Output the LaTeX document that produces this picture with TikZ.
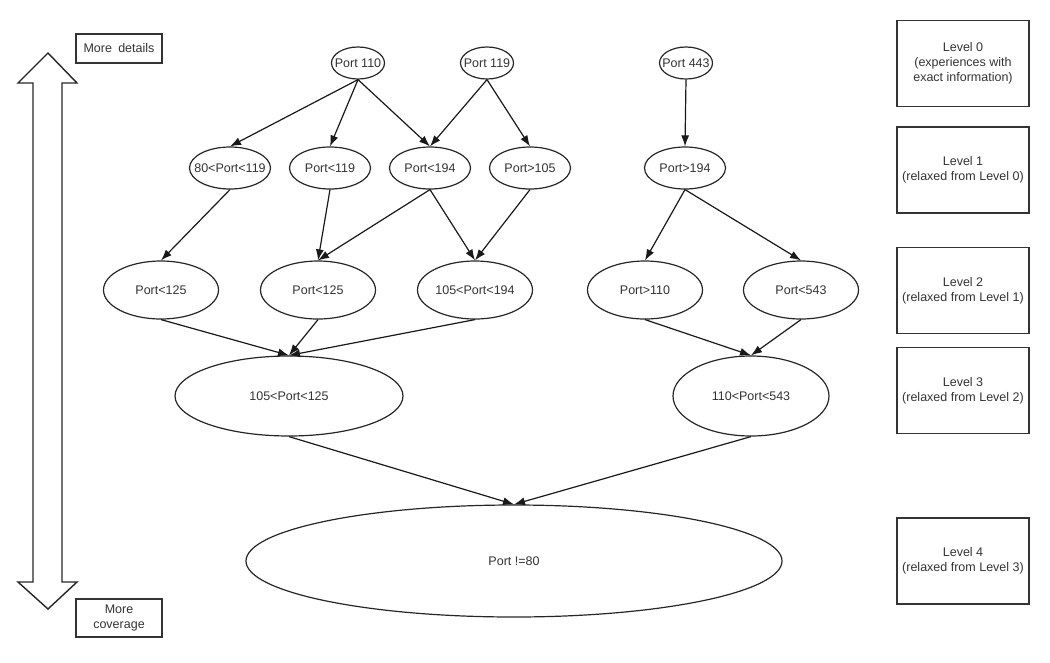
\documentclass[tikz,border=0pt]{standalone}
\usepackage{fontspec}
\setmainfont{Liberation Sans}
\usetikzlibrary{shapes.geometric,arrows.meta}
\newcommand{\zw}[1]{\makebox[0pt]{#1}}
\begin{document}
\begin{tikzpicture}[x=1pt,y=-1pt,
  every node/.style={font=\fontsize{12.5}{15}\selectfont, text=black!80},
  port/.style={ellipse, draw=black!85, line width=1.2pt, inner sep=0pt},
  lvl/.style={draw=black!80, line width=1.4pt, minimum width=132pt, minimum height=86pt, align=center, inner sep=0pt},
  tag/.style={draw=black!80, line width=1.4pt, minimum width=86pt, align=center, inner sep=0pt},
  link/.style={draw=black!90, line width=1.2pt, -{Latex[length=11pt,width=8pt]}}]
\useasboundingbox (0,0) rectangle (1050,662);
% level 0
\node[port, minimum width=53pt, minimum height=32pt] (p110) at (358,63) {\zw{Port 110}};
\node[port, minimum width=53pt, minimum height=32pt] (p119) at (487,63) {\zw{Port 119}};
\node[port, minimum width=53pt, minimum height=32pt] (p443) at (686,63) {\zw{Port 443}};
% level 1
\node[port, minimum width=81pt, minimum height=42pt] (a1) at (230,168) {\zw{80<Port<119}};
\node[port, minimum width=81pt, minimum height=42pt] (a2) at (330,168) {\zw{Port<119}};
\node[port, minimum width=81pt, minimum height=42pt] (a3) at (430,168) {\zw{Port<194}};
\node[port, minimum width=81pt, minimum height=42pt] (a4) at (530,168) {\zw{Port>105}};
\node[port, minimum width=81pt, minimum height=42pt] (a5) at (685,168) {\zw{Port>194}};
% level 2
\node[port, minimum width=115pt, minimum height=58pt] (b1) at (161,290) {\zw{Port<125}};
\node[port, minimum width=115pt, minimum height=58pt] (b2) at (318,290) {\zw{Port<125}};
\node[port, minimum width=115pt, minimum height=58pt] (b3) at (475,290) {\zw{105<Port<194}};
\node[port, minimum width=115pt, minimum height=58pt] (b4) at (645,290) {\zw{Port>110}};
\node[port, minimum width=115pt, minimum height=58pt] (b5) at (801,290) {\zw{Port<543}};
% level 3
\node[port, minimum width=228pt, minimum height=80pt] (c1) at (289,396) {\zw{105<Port<125}};
\node[port, minimum width=156pt, minimum height=80pt] (c2) at (751,396) {\zw{110<Port<543}};
% level 4
\node[port, minimum width=536pt, minimum height=112pt] (d1) at (514,561) {\zw{Port !=80}};
% edges
\draw[link] (p110.south) -- (a1.north);
\draw[link] (p110.south) -- (a2.north);
\draw[link] (p110.south) -- (a3.north);
\draw[link] (p119.south) -- (a3.north);
\draw[link] (p119.south) -- (a4.north);
\draw[link] (p443.south) -- (a5.north);
\draw[link] (a1.south) -- (b1.north);
\draw[link] (a2.south) -- (b2.north);
\draw[link] (a3.south) -- (b2.north);
\draw[link] (a3.south) -- (b3.north);
\draw[link] (a4.south) -- (b3.north);
\draw[link] (a5.south) -- (b4.north);
\draw[link] (a5.south) -- (b5.north);
\draw[link] (b1.south) -- (c1.north);
\draw[link] (b2.south) -- (c1.north);
\draw[link] (b3.south) -- (c1.north);
\draw[link] (b4.south) -- (c2.north);
\draw[link] (b5.south) -- (c2.north);
\draw[link] (c1.south) -- (d1.north);
\draw[link] (c2.south) -- (d1.north);
% level boxes
\node[lvl] (l0) at (963,63.5) {Level 0\\(experiences with\\exact information)};
\node[lvl] (l1) at (963,170) {Level 1\\(relaxed from Level 0)};
\node[lvl] (l2) at (963,290.5) {Level 2\\(relaxed from Level 1)};
\node[lvl] (l3) at (963,390.5) {Level 3\\(relaxed from Level 2)};
\node[lvl] (l4) at (963,561) {Level 4\\(relaxed from Level 3)};
% side arrow
\draw[draw=black!85, line width=1.4pt, line join=miter]
  (48,53) -- (77,83) -- (62,83) -- (62,582) -- (77,582) -- (48,609) -- (18,582) -- (33,582) -- (33,83) -- (18,83) -- cycle;
\node[tag, minimum height=29pt] (md) at (119,48.5) {More\enspace details};
\node[tag, minimum height=38pt] (mc) at (119,618) {More\\coverage};
\end{tikzpicture}
\end{document}
